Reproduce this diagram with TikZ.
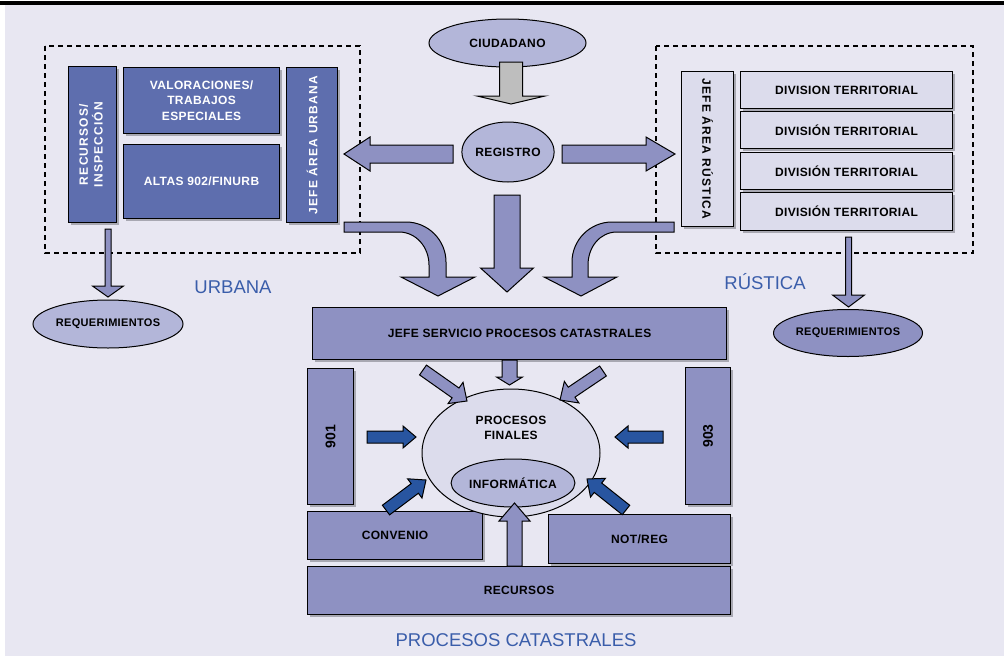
\documentclass[tikz,border=0pt]{standalone}
\usepackage{fontspec}
\usetikzlibrary{shapes.geometric,shadows}
\newfontfamily\lblfont{Liberation Sans}[LetterSpace=3]
\newfontfamily\smfont{Liberation Sans}[LetterSpace=3]
\newfontfamily\vlblfont{Liberation Sans}[LetterSpace=10]
\newfontfamily\capfont{Liberation Sans}
\newcommand\lbl{\lblfont\bfseries\fontsize{12}{15.5}\selectfont}
\newcommand\lblsm{\smfont\bfseries\fontsize{11}{12}\selectfont}
\newcommand\vlbl{\vlblfont\bfseries\fontsize{12}{13.5}\selectfont}
\newcommand\numlbl{\capfont\bfseries\fontsize{14}{15}\selectfont}
\newcommand\caplbl{\capfont\fontsize{18.5}{20}\selectfont}
\definecolor{cbg}{RGB}{232,231,242}
\definecolor{cdark}{RGB}{94,110,174}
\definecolor{cmed}{RGB}{142,145,194}
\definecolor{clight}{RGB}{220,220,236}
\definecolor{cell}{RGB}{179,182,217}
\definecolor{cshd}{RGB}{168,168,178}
\definecolor{cdarr}{RGB}{40,85,160}
\definecolor{cgray}{RGB}{190,190,190}
\definecolor{cblue}{RGB}{58,93,170}
\newcommand\blockarr[6]{%
  \pgfpointdiff{\pgfpointanchor{#1}{center}}{\pgfpointanchor{#2}{center}}%
  \pgfgetlastxy\barrdx\barrdy
  \pgfmathsetmacro\barang{atan2(\barrdy,\barrdx)}%
  \pgfmathsetmacro\barlen{veclen(\barrdx,\barrdy)}%
  \draw[#6,shift={(#1)},rotate=\barang] (0pt,-#3pt) -- (\barlen pt-#5pt,-#3pt) -- (\barlen pt-#5pt,-#4pt) -- (\barlen pt,0pt) -- (\barlen pt-#5pt,#4pt) -- (\barlen pt-#5pt,#3pt) -- (0pt,#3pt) -- cycle;
}
\begin{document}
\begin{tikzpicture}[x=1pt,y=-1pt,
  shd/.style={drop shadow={shadow xshift=2.5pt,shadow yshift=-2.5pt,fill=cshd,opacity=1}},
  bx/.style={draw=black,line width=1.1pt,inner sep=0pt,anchor=north west,align=center,font=\lbl,shd},
  dk/.style={bx,fill=cdark,text=white},
  md/.style={bx,fill=cmed},
  lt/.style={bx,fill=clight},
  ell/.style={ellipse,draw=black,line width=1pt,inner sep=0pt,align=center,font=\lbl},
  dashbox/.style={draw=black,line width=2pt,dash pattern=on 5pt off 4pt},
  barr/.style={draw=black,line width=1pt,fill=cmed,line join=miter},
  darr/.style={barr,fill=cdarr},
  garr/.style={barr,fill=cgray},
  captxt/.style={font=\caplbl,text=cblue,inner sep=0pt}
]
\useasboundingbox (0,0) rectangle (1004,656);
\fill[cbg] (5,5) rectangle (1004,656);
\fill[black] (0,1) rectangle (1004,5);

% dashed groups
\draw[dashbox] (45,46) rectangle (360,253);
\draw[dashbox] (656,46) rectangle (973,253);

% URBANA boxes
\node[dk,minimum width=48pt,minimum height=156pt] (recinsp) at (68,66)
  {\rotatebox{90}{\vlbl\begin{tabular}{@{}c@{}}RECURSOS/\\INSPECCIÓN\end{tabular}}};
\node[dk,minimum width=156pt,minimum height=66pt] (valor) at (123,67) {VALORACIONES/\\TRABAJOS\\ESPECIALES};
\node[dk,minimum width=156pt,minimum height=74pt] (altas) at (123,144) {ALTAS 902/FINURB};
\node[dk,minimum width=51pt,minimum height=155pt] (jefeurb) at (286,67) {\rotatebox{90}{\vlbl JEFE ÁREA URBANA}};

% RUSTICA boxes
\node[lt,minimum width=52pt,minimum height=155pt] (jeferus) at (681,71) {\rotatebox{-90}{\vlbl JEFE ÁREA RÚSTICA}};
\node[lt,minimum width=212pt,minimum height=37pt] (div1) at (740,71) {DIVISION TERRITORIAL};
\node[lt,minimum width=212pt,minimum height=37pt] (div2) at (740,111) {DIVISIÓN TERRITORIAL};
\node[lt,minimum width=212pt,minimum height=37pt] (div3) at (740,152) {DIVISIÓN TERRITORIAL};
\node[lt,minimum width=212pt,minimum height=38pt] (div4) at (740,192) {DIVISIÓN TERRITORIAL};

% top ellipses
\node[ell,fill=cell,minimum width=157pt,minimum height=48pt] (ciud) at (507.5,43) {CIUDADANO};
\node[ell,fill=cell,minimum width=90pt,minimum height=60pt] (reg) at (508,152) {REGISTRO};

% requerimientos
\node[ell,fill=cell,minimum width=150pt,minimum height=48pt,font=\lblsm] (reqL) at (108,324) {REQUERIMIENTOS};
\node[ell,fill=cmed,minimum width=149pt,minimum height=47pt,font=\lblsm] (reqR) at (848,333) {REQUERIMIENTOS};

% procesos catastrales block
\node[md,minimum width=414pt,minimum height=52pt] (jefeserv) at (312,307) {JEFE SERVICIO PROCESOS CATASTRALES};
\node[md,minimum width=46pt,minimum height=136pt] (n901) at (307,368) {\rotatebox{90}{\numlbl 901}};
\node[md,minimum width=45pt,minimum height=137pt] (n903) at (685,367) {\rotatebox{90}{\numlbl 903}};
\node[md,minimum width=175pt,minimum height=48pt] (conv) at (307,511) {CONVENIO};
\node[md,minimum width=182pt,minimum height=49pt] (notreg) at (548,514) {NOT/REG};
\node[md,minimum width=423pt,minimum height=48pt] (recur) at (307,566) {RECURSOS};
\node[ell,fill=clight,minimum width=178pt,minimum height=128pt] (procfin) at (511,453) {};
\node[font=\lbl,align=center,inner sep=0pt] (procfintxt) at (511,428) {PROCESOS\\FINALES};
\node[ell,fill=cell,minimum width=108pt,minimum height=48pt] (info) at (513,483) {INFORMÁTICA};

% arrow end points
\coordinate (g1) at (511,62);   \coordinate (g2) at (511,104);
\coordinate (l1) at (453,154);  \coordinate (l2) at (344,154);
\coordinate (r1) at (562,154);  \coordinate (r2) at (675,154);
\coordinate (m1) at (507,195);  \coordinate (m2) at (507,292);
\coordinate (j1) at (509.5,360);\coordinate (j2) at (509.5,385);
\coordinate (ul1) at (423,370); \coordinate (ul2) at (467,401);
\coordinate (ur1) at (603,371); \coordinate (ur2) at (560,400);
\coordinate (dl1) at (367,437); \coordinate (dl2) at (416,437);
\coordinate (dr1) at (663,437); \coordinate (dr2) at (615,437);
\coordinate (bl1) at (386,510); \coordinate (bl2) at (426,480);
\coordinate (br1) at (626,510); \coordinate (br2) at (587,479);
\coordinate (u1) at (514.5,566);\coordinate (u2) at (514.5,503);
\coordinate (q1) at (108,229);  \coordinate (q2) at (108,297);
\coordinate (q3) at (848.5,237);\coordinate (q4) at (848.5,307);

\blockarr{g1}{g2}{11.5}{34}{8}{garr}
\blockarr{l1}{l2}{9}{17}{26}{barr}
\blockarr{r1}{r2}{9}{17}{29}{barr}
\blockarr{m1}{m2}{13}{26.5}{24}{barr}
\blockarr{j1}{j2}{7.5}{13}{8}{barr}
\blockarr{ul1}{ul2}{6}{13}{14}{barr}
\blockarr{ur1}{ur2}{6}{13}{14}{barr}
\blockarr{dl1}{dl2}{6}{11}{13}{darr}
\blockarr{dr1}{dr2}{6}{11}{13}{darr}
\blockarr{bl1}{bl2}{6}{12}{14}{darr}
\blockarr{br1}{br2}{6}{12}{14}{darr}
\blockarr{u1}{u2}{7.5}{15.5}{18}{barr}
\blockarr{q1}{q2}{3}{15.5}{11}{barr}
\blockarr{q3}{q4}{3}{16}{12}{barr}

% curved arrows
\draw[barr] (344,222) -- (406,222) .. controls (428,222) and (446,240) .. (446,262)
  -- (446,277) -- (475,277) -- (438,296) -- (401,277) -- (429,277) -- (429,265)
  .. controls (429,247) and (416,232) .. (399,232) -- (344,232) -- cycle;
\draw[barr] (674,222) -- (612,222) .. controls (590,222) and (572,240) .. (572,262)
  -- (572,277) -- (544,277) -- (581,296) -- (617,277) -- (588,277) -- (588,265)
  .. controls (588,247) and (600,232) .. (617,232) -- (674,232) -- cycle;

% captions
\node[captxt] (urbana) at (233,287) {URBANA};
\node[captxt] (rustica) at (765,282) {RÚSTICA};
\node[captxt] (proccat) at (516,640) {PROCESOS CATASTRALES};
\end{tikzpicture}
\end{document}
